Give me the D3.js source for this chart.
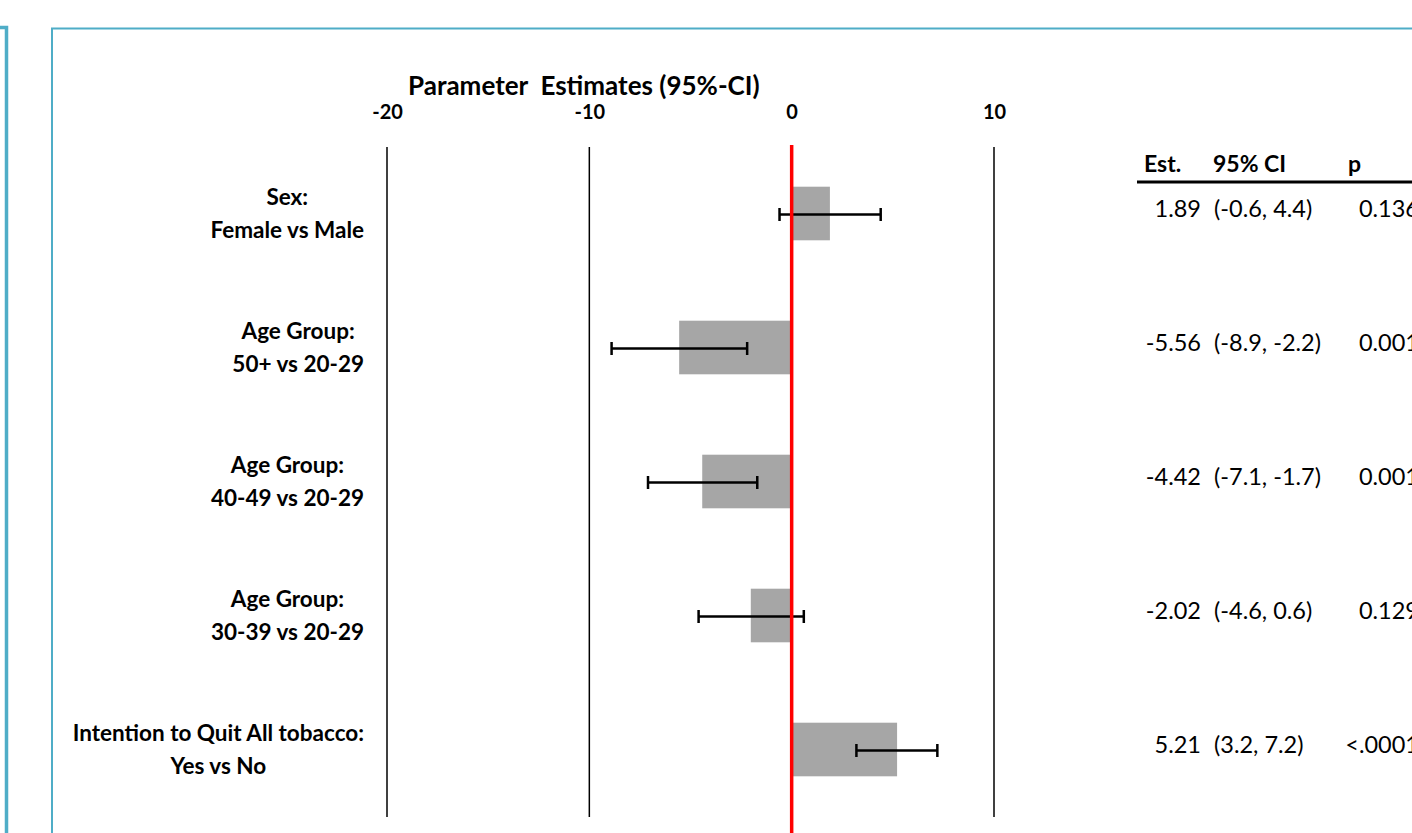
<!DOCTYPE html>
<html>
<head>
<meta charset="utf-8">
<script src="https://cdn.jsdelivr.net/npm/d3@7"></script>
<style>
  html, body { margin: 0; padding: 0; background: #ffffff; }
  svg { display: block; }
  text { font-family: Lato, "Open Sans", sans-serif; fill: #000; }
</style>
</head>
<body>
<svg id="chart" width="1412" height="833"></svg>
<script>
// Model terms (two-line labels), point estimates and 95% confidence limits
const labelLine1 = ["Sex:", "Age Group:", "Age Group:", "Age Group:", "Intention to Quit All tobacco:"];
const labelLine2 = ["Female vs Male", "50+ vs 20-29", "40-49 vs 20-29", "30-39 vs 20-29", "Yes vs No"];
const estimates  = [1.89, -5.56, -4.42, -2.02, 5.21];
const ciLower    = [-0.6, -8.9, -7.1, -4.6, 3.2];
const ciUpper    = [4.4, -2.2, -1.7, 0.6, 7.2];
const ciText     = ["(-0.6, 4.4)", "(-8.9, -2.2)", "(-7.1, -1.7)", "(-4.6, 0.6)", "(3.2, 7.2)"];
const pValues    = ["0.136", "0.001", "0.001", "0.129", "<.0001"];
const axisTicks  = [-20, -10, 0, 10];
const gridTicks  = [-20, -10, 10];
const tableHead  = ["Est.", "95% CI", "p"];

const svg = d3.select("#chart");
const W = 1412, H = 833;
const terms = d3.range(estimates.length);

// Scales
const x = d3.scaleLinear().domain([-20, 10]).range([387, 994]);
const y = d3.scaleBand().domain(terms).range([146.5, 816.5])
  .paddingInner(0.6).paddingOuter(0.3);
const cy = i => y(i) + y.bandwidth() / 2;

// Panel frames
const frame = "#4fadc7";
svg.append("path")
  .attr("d", `M-10,27.5 H6.5 V${H + 10}`)
  .attr("fill", "none").attr("stroke", frame).attr("stroke-width", 3.5);
svg.append("path")
  .attr("d", `M52,${H + 10} V28.5 H${W + 10}`)
  .attr("fill", "none").attr("stroke", frame).attr("stroke-width", 2);

// Title
svg.append("text")
  .attr("x", 408).attr("y", 95)
  .attr("font-size", 26).attr("font-weight", 700)
  .style("white-space", "pre")
  .text("Parameter  Estimates (95%-CI)");

// Top axis labels
const axis = svg.append("g")
  .attr("transform", "translate(0,119)")
  .call(d3.axisTop(x).tickValues(axisTicks).tickSize(0).tickPadding(0).tickFormat(d => String(d)));
axis.select(".domain").remove();
axis.selectAll("text")
  .attr("font-family", "Lato, 'Open Sans', sans-serif")
  .attr("font-size", 20).attr("font-weight", 700).attr("fill", "#000");

// Vertical gridlines
svg.append("g").selectAll("line").data(gridTicks).join("line")
  .attr("x1", d => x(d)).attr("x2", d => x(d))
  .attr("y1", 147).attr("y2", 817)
  .attr("stroke", "#000").attr("stroke-width", 1.5);

// Estimate bars
svg.append("g").selectAll("rect").data(terms).join("rect")
  .attr("x", i => Math.min(x(0), x(estimates[i])))
  .attr("width", i => Math.abs(x(estimates[i]) - x(0)))
  .attr("y", i => y(i))
  .attr("height", y.bandwidth())
  .attr("fill", "#a6a6a6");

// Confidence interval whiskers
const ci = svg.append("g").attr("stroke", "#000").attr("stroke-width", 2.5);
ci.selectAll("line.span").data(terms).join("line").attr("class", "span")
  .attr("x1", i => x(ciLower[i])).attr("x2", i => x(ciUpper[i]))
  .attr("y1", i => cy(i) + 1).attr("y2", i => cy(i) + 1);
ci.selectAll("line.lo").data(terms).join("line").attr("class", "lo")
  .attr("x1", i => x(ciLower[i])).attr("x2", i => x(ciLower[i]))
  .attr("y1", i => cy(i) - 5.5).attr("y2", i => cy(i) + 7.5);
ci.selectAll("line.hi").data(terms).join("line").attr("class", "hi")
  .attr("x1", i => x(ciUpper[i])).attr("x2", i => x(ciUpper[i]))
  .attr("y1", i => cy(i) - 5.5).attr("y2", i => cy(i) + 7.5);

// Reference line at zero
svg.append("line")
  .attr("x1", x(0)).attr("x2", x(0))
  .attr("y1", 145).attr("y2", H)
  .attr("stroke", "#ff0000").attr("stroke-width", 3.5);

// Term labels: each two-line block centred, block right edge at 364
const labels = svg.append("g").attr("font-size", 22.5).attr("font-weight", 700);
terms.forEach(i => {
  const g = labels.append("g");
  const t1 = g.append("text").attr("y", cy(i) - 8.5).attr("text-anchor", "middle").text(labelLine1[i]);
  const t2 = g.append("text").attr("y", cy(i) + 24.5).attr("text-anchor", "middle").text(labelLine2[i]);
  const w = Math.max(t1.node().getComputedTextLength(), t2.node().getComputedTextLength());
  g.selectAll("text").attr("x", 364 - w / 2);
});

// Results table
const head = svg.append("g").attr("font-size", 23).attr("font-weight", 700);
const headX = [1144, 1213, 1348];
head.selectAll("text").data(tableHead).join("text")
  .attr("x", (d, k) => headX[k]).attr("y", 172).text(d => d);
svg.append("line")
  .attr("x1", 1137).attr("x2", W).attr("y1", 182).attr("y2", 182)
  .attr("stroke", "#000").attr("stroke-width", 3);

const body = svg.append("g").attr("font-size", 23.5);
body.selectAll("text.est").data(terms).join("text").attr("class", "est")
  .attr("x", 1201).attr("y", i => cy(i) + 3).attr("text-anchor", "end")
  .text(i => estimates[i].toFixed(2));
body.selectAll("text.ci").data(terms).join("text").attr("class", "ci")
  .attr("x", 1214).attr("y", i => cy(i) + 3)
  .text(i => ciText[i]);
body.selectAll("text.p").data(terms).join("text").attr("class", "p")
  .attr("x", 1419).attr("y", i => cy(i) + 3).attr("text-anchor", "end")
  .text(i => pValues[i]);
</script>
</body>
</html>
